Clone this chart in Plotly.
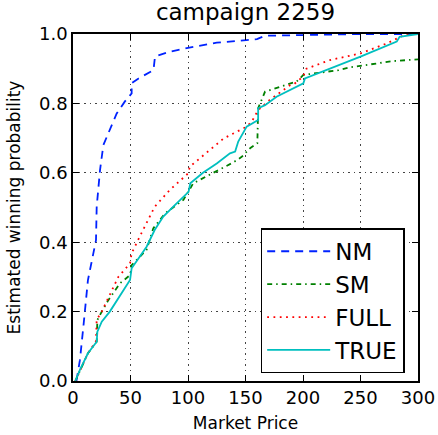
import plotly.graph_objects as go

# ---- data ----
nm_x = [3, 6, 9, 13, 16, 20, 20.6, 23.5, 26.4, 31.6, 38, 45, 51, 51, 57, 70, 71.3, 84, 100, 125, 151, 160, 167, 250, 300]
nm_y = [0, 0.06, 0.156, 0.291, 0.34, 0.406, 0.502, 0.608, 0.68, 0.723, 0.771, 0.805, 0.829, 0.858, 0.872, 0.896, 0.935, 0.949, 0.96, 0.975, 0.982, 0.985, 0.995, 1.0, 1.0]

sm_x = [2, 13, 20.6, 21.2, 25, 30.7, 41, 49.6, 51, 64, 69.8, 80, 96, 104.6, 122, 131, 139.4, 146.7, 154, 160.3, 160.6, 161, 167, 175.7, 186, 194.5, 200.3, 210, 231, 241, 258, 278.5, 300]
sm_y = [0, 0.08, 0.113, 0.176, 0.2, 0.233, 0.282, 0.305, 0.334, 0.378, 0.44, 0.483, 0.522, 0.57, 0.6, 0.615, 0.63, 0.646, 0.671, 0.685, 0.718, 0.786, 0.834, 0.843, 0.853, 0.863, 0.882, 0.887, 0.896, 0.904, 0.913, 0.922, 0.927]

full_x = [2, 13, 20, 20.6, 25, 32, 39.4, 49.6, 51, 58, 71, 84, 100, 101.7, 131, 151, 155.4, 161, 171, 189, 192, 200, 203, 223.5, 250, 273, 284, 290, 300]
full_y = [0, 0.08, 0.115, 0.176, 0.2, 0.248, 0.3, 0.339, 0.368, 0.416, 0.502, 0.55, 0.598, 0.618, 0.699, 0.733, 0.747, 0.781, 0.81, 0.853, 0.855, 0.877, 0.9, 0.925, 0.944, 0.973, 0.992, 1.0, 1.0]

true_x = [2, 6, 13, 20.6, 21.2, 25, 32, 41, 49.6, 51, 55, 64, 71, 78.5, 87, 96, 100.5, 102, 113, 125, 131, 136.5, 141, 143.7, 151, 161, 161, 167, 177, 189, 197, 200.3, 201.7, 220.6, 250, 281.5, 284, 300]
true_y = [0, 0.032, 0.08, 0.113, 0.142, 0.171, 0.2, 0.248, 0.291, 0.325, 0.344, 0.387, 0.435, 0.474, 0.502, 0.531, 0.545, 0.57, 0.6, 0.627, 0.642, 0.656, 0.661, 0.69, 0.733, 0.752, 0.786, 0.795, 0.819, 0.839, 0.853, 0.858, 0.872, 0.896, 0.935, 0.978, 0.992, 1.0]

x_ticks = [0, 50, 100, 150, 200, 250, 300]
y_ticks = [0.0, 0.2, 0.4, 0.6, 0.8, 1.0]

FONT = "DejaVu Sans"

fig = go.Figure()
fig.add_trace(go.Scatter(x=nm_x, y=nm_y, mode="lines", name="NM", legendgroup="g1",
                         line=dict(color="#0022ff", width=1.8, dash="8px,6px")))
fig.add_trace(go.Scatter(x=sm_x, y=sm_y, mode="lines", name="SM", legendgroup="g2",
                         line=dict(color="#008000", width=1.8, dash="5px,4px,1.5px,4px")))
fig.add_trace(go.Scatter(x=full_x, y=full_y, mode="lines", name="FULL", legendgroup="g3",
                         line=dict(color="#ff0000", width=1.8, dash="1.8px,4.5px")))
fig.add_trace(go.Scatter(x=true_x, y=true_y, mode="lines", name="TRUE", legendgroup="g4",
                         line=dict(color="#00bfbf", width=1.8)))

axis_common = dict(
    showline=True, linecolor="black", linewidth=1.5, mirror="ticks",
    ticks="inside", ticklen=6, tickcolor="black", tickwidth=1,
    showgrid=True, gridcolor="#444444", griddash="1.5px,4px", gridwidth=1.2,
    zeroline=False, automargin=False,
    tickfont=dict(family=FONT, size=18, color="black"),
)

fig.update_xaxes(range=[0, 300], tickvals=x_ticks, ticktext=[str(v) for v in x_ticks],
                 title=dict(text="Market Price", font=dict(family=FONT, size=17, color="black"), standoff=10),
                 **axis_common)
fig.update_yaxes(range=[0, 1.0], tickvals=y_ticks, ticktext=[f"{v:.1f}" for v in y_ticks],
                 title=dict(text="Estimated winning probability", font=dict(family=FONT, size=17, color="black"), standoff=14),
                 **axis_common)

fig.update_layout(
    width=438, height=435,
    margin=dict(l=73, r=20, t=34, b=54),
    paper_bgcolor="white", plot_bgcolor="white",
    title=dict(text="campaign 2259", x=0.5, xref="paper", xanchor="center",
               y=0.99, yanchor="top",
               font=dict(family=FONT, size=23, color="black")),
    showlegend=True,
    legend=dict(x=0.544, y=0.44, xanchor="left", yanchor="top",
                bordercolor="black", borderwidth=1.5, bgcolor="white",
                font=dict(family=FONT, size=23, color="black"),
                itemwidth=63, tracegroupgap=0, traceorder="grouped"),
)

# remove the page's default 8px body margin so the figure fills the window exactly
fig.write_html("out.html", config={"displayModeBar": False},
               post_script="document.body.style.margin='0px';")
